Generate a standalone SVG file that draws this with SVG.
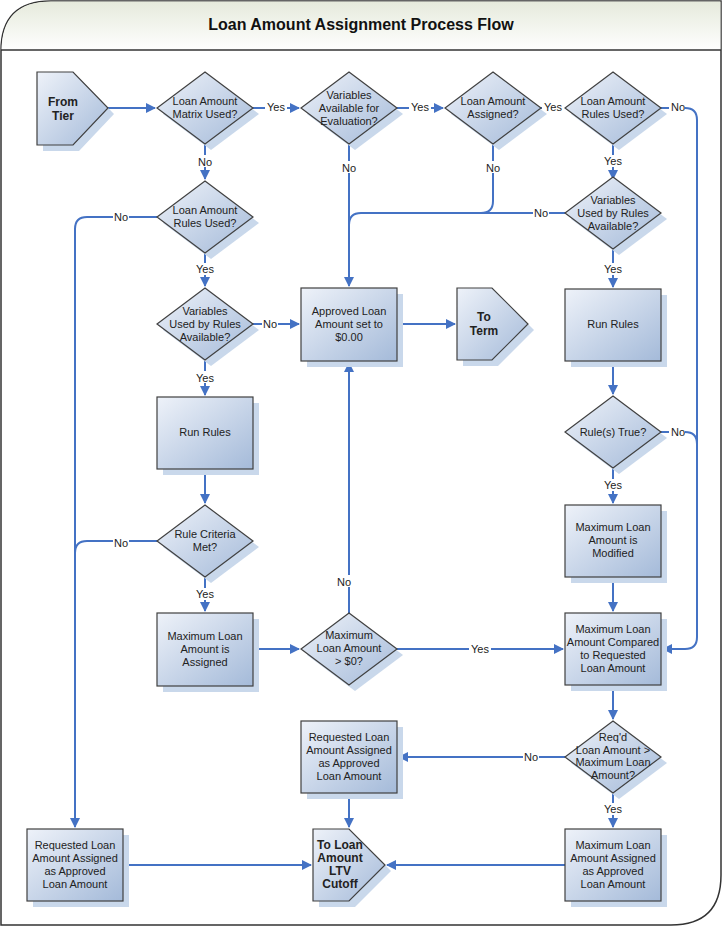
<svg xmlns="http://www.w3.org/2000/svg" width="722" height="926" viewBox="0 0 722 926">
<defs>
<linearGradient id="g" x1="0" y1="0" x2="1" y2="1"><stop offset="0" stop-color="#eef2f9"/><stop offset="1" stop-color="#a4bad9"/></linearGradient>
<linearGradient id="tg" x1="0" y1="0" x2="0" y2="1"><stop offset="0" stop-color="#e6eadc"/><stop offset="1" stop-color="#ffffff"/></linearGradient>
<marker id="a" markerWidth="10" markerHeight="10" refX="9" refY="5" orient="auto" markerUnits="userSpaceOnUse"><path d="M0,0 L10,5 L0,10 Z" fill="#4472c4"/></marker>
</defs>
<style>
.s{fill:url(#g);stroke:#404040;stroke-width:1.2}
.sh{fill:#c9d8eb}
.t{font-family:"Liberation Sans",Arial,sans-serif;font-size:11px;fill:#222;text-anchor:middle}
.b{font-weight:bold;font-size:12px}
.c{fill:none;stroke:#4472c4;stroke-width:2}
.l{font-family:"Liberation Sans",Arial,sans-serif;font-size:11px;fill:#222;text-anchor:middle}
.lb{fill:#fff}
</style>
<rect width="722" height="926" fill="#fff"/>
<path d="M51,1 H721 V875 Q721,925 671,925 H1 V51 Q1,1 51,1 Z" fill="#fff" stroke="#333" stroke-width="1.5"/>
<path d="M51,1.5 H720.5 V50 H1.5 V51 Q1.5,1.5 51,1.5 Z" fill="url(#tg)"/>
<line x1="1" y1="50" x2="721" y2="50" stroke="#333" stroke-width="1.5"/>
<text x="361" y="30" font-family="Liberation Sans,Arial,sans-serif" font-size="16" font-weight="bold" text-anchor="middle" fill="#111">Loan Amount Assignment Process Flow</text>

<g id="connectors">
<path class="c" d="M108,108 H155" marker-end="url(#a)"/>
<path class="c" d="M253,108 H299" marker-end="url(#a)"/>
<path class="c" d="M397,108 H443" marker-end="url(#a)"/>
<path class="c" d="M541,108 H563" marker-end="url(#a)"/>
<path class="c" d="M661,108 H685 Q697,108 697,120 V637 Q697,649 685,649 H663" marker-end="url(#a)"/>
<path class="c" d="M661,432 H685 Q697,432 697,444"/>
<path class="c" d="M613,144 V179" marker-end="url(#a)"/>
<path class="c" d="M565,213 H361 Q349,213 349,225"/>
<path class="c" d="M493,144 V201 Q493,213 481,213"/>
<path class="c" d="M349,144 V286" marker-end="url(#a)"/>
<path class="c" d="M205,144 V179" marker-end="url(#a)"/>
<path class="c" d="M157,217 H87 Q75,217 75,229 V827" marker-end="url(#a)"/>
<path class="c" d="M205,253 V286" marker-end="url(#a)"/>
<path class="c" d="M253,324 H299" marker-end="url(#a)"/>
<path class="c" d="M397,324 H455" marker-end="url(#a)"/>
<path class="c" d="M613,249 V287" marker-end="url(#a)"/>
<path class="c" d="M613,361 V394" marker-end="url(#a)"/>
<path class="c" d="M613,468 V503" marker-end="url(#a)"/>
<path class="c" d="M613,577 V611" marker-end="url(#a)"/>
<path class="c" d="M205,360 V395" marker-end="url(#a)"/>
<path class="c" d="M205,469 V503" marker-end="url(#a)"/>
<path class="c" d="M157,541 H87 Q75,541 75,553"/>
<path class="c" d="M205,577 V611" marker-end="url(#a)"/>
<path class="c" d="M253,649 H299" marker-end="url(#a)"/>
<path class="c" d="M397,649 H563" marker-end="url(#a)"/>
<path class="c" d="M349,613 V363" marker-end="url(#a)"/>
<path class="c" d="M613,685 V719" marker-end="url(#a)"/>
<path class="c" d="M565,757 H399" marker-end="url(#a)"/>
<path class="c" d="M613,793 V827" marker-end="url(#a)"/>
<path class="c" d="M349,793 V827" marker-end="url(#a)"/>
<path class="c" d="M123,865 H311" marker-end="url(#a)"/>
<path class="c" d="M565,865 H387" marker-end="url(#a)"/>
<g class="l">
<rect class="lb" x="265" y="101" width="22" height="12"/><text x="276" y="111">Yes</text>
<rect class="lb" x="409" y="101" width="22" height="12"/><text x="420" y="111">Yes</text>
<rect class="lb" x="542" y="101" width="22" height="12"/><text x="553" y="111">Yes</text>
<rect class="lb" x="669" y="101" width="16" height="12"/><text x="678" y="111">No</text>
<rect class="lb" x="669" y="425" width="16" height="12"/><text x="678" y="436">No</text>
<rect class="lb" x="533" y="206" width="16" height="12"/><text x="541" y="217">No</text>
<rect class="lb" x="341" y="161" width="16" height="12"/><text x="349" y="172">No</text>
<rect class="lb" x="485" y="161" width="16" height="12"/><text x="493" y="172">No</text>
<rect class="lb" x="197" y="155" width="16" height="12"/><text x="205" y="166">No</text>
<rect class="lb" x="113" y="210" width="16" height="12"/><text x="121" y="221">No</text>
<rect class="lb" x="194" y="263" width="22" height="12"/><text x="205" y="273">Yes</text>
<rect class="lb" x="262" y="317" width="16" height="12"/><text x="270" y="328">No</text>
<rect class="lb" x="602" y="155" width="22" height="12"/><text x="613" y="165">Yes</text>
<rect class="lb" x="602" y="263" width="22" height="12"/><text x="613" y="273">Yes</text>
<rect class="lb" x="602" y="479" width="22" height="12"/><text x="613" y="489">Yes</text>
<rect class="lb" x="194" y="371" width="22" height="12"/><text x="205" y="382">Yes</text>
<rect class="lb" x="113" y="536" width="16" height="12"/><text x="121" y="547">No</text>
<rect class="lb" x="194" y="588" width="22" height="12"/><text x="205" y="598">Yes</text>
<rect class="lb" x="469" y="642" width="22" height="12"/><text x="480" y="653">Yes</text>
<rect class="lb" x="336" y="575" width="16" height="12"/><text x="344" y="586">No</text>
<rect class="lb" x="523" y="750" width="16" height="12"/><text x="531" y="761">No</text>
<rect class="lb" x="602" y="803" width="22" height="12"/><text x="613" y="813">Yes</text>
</g>
</g>

<g id="from-tier"><polygon class="sh" points="43,78 79,78 114,114 79,151 43,151"/><polygon class="s" points="37,72 73,72 108,108 73,145 37,145"/><text class="t b" x="63" y="106">From</text><text class="t b" x="63" y="120">Tier</text></g>
<g id="d-matrix"><polygon class="sh" points="211,78 259,114 211,150 163,114"/><polygon class="s" points="205,72 253,108 205,144 157,108"/><text class="t" x="205" y="105">Loan Amount</text><text class="t" x="205" y="118">Matrix Used?</text></g>
<g id="d-vars-eval"><polygon class="sh" points="355,78 403,114 355,150 307,114"/><polygon class="s" points="349,72 397,108 349,144 301,108"/><text class="t" x="349" y="99">Variables</text><text class="t" x="349" y="112">Available for</text><text class="t" x="349" y="125">Evaluation?</text></g>
<g id="d-assigned"><polygon class="sh" points="499,78 547,114 499,150 451,114"/><polygon class="s" points="493,72 541,108 493,144 445,108"/><text class="t" x="493" y="105">Loan Amount</text><text class="t" x="493" y="118">Assigned?</text></g>
<g id="d-rules-r"><polygon class="sh" points="619,78 667,114 619,150 571,114"/><polygon class="s" points="613,72 661,108 613,144 565,108"/><text class="t" x="613" y="105">Loan Amount</text><text class="t" x="613" y="118">Rules Used?</text></g>
<g id="d-rules-l"><polygon class="sh" points="211,187 259,223 211,259 163,223"/><polygon class="s" points="205,181 253,217 205,253 157,217"/><text class="t" x="205" y="214">Loan Amount</text><text class="t" x="205" y="227">Rules Used?</text></g>
<g id="d-vars-r"><polygon class="sh" points="619,183 667,219 619,255 571,219"/><polygon class="s" points="613,177 661,213 613,249 565,213"/><text class="t" x="613" y="204">Variables</text><text class="t" x="613" y="217">Used by Rules</text><text class="t" x="613" y="230">Available?</text></g>
<g id="d-vars-l"><polygon class="sh" points="211,294 259,330 211,366 163,330"/><polygon class="s" points="205,288 253,324 205,360 157,324"/><text class="t" x="205" y="315">Variables</text><text class="t" x="205" y="328">Used by Rules</text><text class="t" x="205" y="341">Available?</text></g>
<g id="b-zero"><rect class="sh" x="307" y="294" width="96" height="73"/><rect class="s" x="301" y="288" width="96" height="73"/><text class="t" x="349" y="315">Approved Loan</text><text class="t" x="349" y="328">Amount set to</text><text class="t" x="349" y="341">$0.00</text></g>
<g id="to-term"><polygon class="sh" points="463,294 498,294 534,330 498,366 463,366"/><polygon class="s" points="457,288 492,288 528,324 492,360 457,360"/><text class="t b" x="484" y="321">To</text><text class="t b" x="484" y="335">Term</text></g>
<g id="b-run-r"><rect class="sh" x="571" y="295" width="96" height="72"/><rect class="s" x="565" y="289" width="96" height="72"/><text class="t" x="613" y="328">Run Rules</text></g>
<g id="b-run-l"><rect class="sh" x="163" y="403" width="96" height="72"/><rect class="s" x="157" y="397" width="96" height="72"/><text class="t" x="205" y="436">Run Rules</text></g>
<g id="d-true"><polygon class="sh" points="619,402 667,438 619,474 571,438"/><polygon class="s" points="613,396 661,432 613,468 565,432"/><text class="t" x="613" y="436">Rule(s) True?</text></g>
<g id="d-criteria"><polygon class="sh" points="211,511 259,547 211,583 163,547"/><polygon class="s" points="205,505 253,541 205,577 157,541"/><text class="t" x="205" y="538">Rule Criteria</text><text class="t" x="205" y="551">Met?</text></g>
<g id="b-modified"><rect class="sh" x="571" y="511" width="96" height="72"/><rect class="s" x="565" y="505" width="96" height="72"/><text class="t" x="613" y="531">Maximum Loan</text><text class="t" x="613" y="544">Amount is</text><text class="t" x="613" y="557">Modified</text></g>
<g id="b-assigned"><rect class="sh" x="163" y="619" width="96" height="73"/><rect class="s" x="157" y="613" width="96" height="73"/><text class="t" x="205" y="640">Maximum Loan</text><text class="t" x="205" y="653">Amount is</text><text class="t" x="205" y="666">Assigned</text></g>
<g id="d-gt0"><polygon class="sh" points="355,619 403,655 355,691 307,655"/><polygon class="s" points="349,613 397,649 349,685 301,649"/><text class="t" x="349" y="639">Maximum</text><text class="t" x="349" y="652">Loan Amount</text><text class="t" x="349" y="665">&gt; $0?</text></g>
<g id="b-compared"><rect class="sh" x="571" y="619" width="96" height="72"/><rect class="s" x="565" y="613" width="96" height="72"/><text class="t" x="613" y="633">Maximum Loan</text><text class="t" x="613" y="646">Amount Compared</text><text class="t" x="613" y="659">to Requested</text><text class="t" x="613" y="672">Loan Amount</text></g>
<g id="d-reqd"><polygon class="sh" points="619,727 667,763 619,799 571,763"/><polygon class="s" points="613,721 661,757 613,793 565,757"/><text class="t" x="613" y="741">Req'd</text><text class="t" x="613" y="754">Loan Amount &gt;</text><text class="t" x="613" y="766">Maximum Loan</text><text class="t" x="613" y="779">Amount?</text></g>
<g id="b-req-mid"><rect class="sh" x="307" y="727" width="96" height="72"/><rect class="s" x="301" y="721" width="96" height="72"/><text class="t" x="349" y="741">Requested Loan</text><text class="t" x="349" y="754">Amount Assigned</text><text class="t" x="349" y="767">as Approved</text><text class="t" x="349" y="780">Loan Amount</text></g>
<g id="b-req-left"><rect class="sh" x="33" y="835" width="96" height="72"/><rect class="s" x="27" y="829" width="96" height="72"/><text class="t" x="75" y="849">Requested Loan</text><text class="t" x="75" y="862">Amount Assigned</text><text class="t" x="75" y="875">as Approved</text><text class="t" x="75" y="888">Loan Amount</text></g>
<g id="to-ltv"><polygon class="sh" points="319,835 355,835 391,871 355,907 319,907"/><polygon class="s" points="313,829 349,829 385,865 349,901 313,901"/><text class="t b" x="340" y="849">To Loan</text><text class="t b" x="340" y="862">Amount</text><text class="t b" x="340" y="875">LTV</text><text class="t b" x="340" y="888">Cutoff</text></g>
<g id="b-max-approved"><rect class="sh" x="571" y="835" width="96" height="72"/><rect class="s" x="565" y="829" width="96" height="72"/><text class="t" x="613" y="849">Maximum Loan</text><text class="t" x="613" y="862">Amount Assigned</text><text class="t" x="613" y="875">as Approved</text><text class="t" x="613" y="888">Loan Amount</text></g>
</svg>
